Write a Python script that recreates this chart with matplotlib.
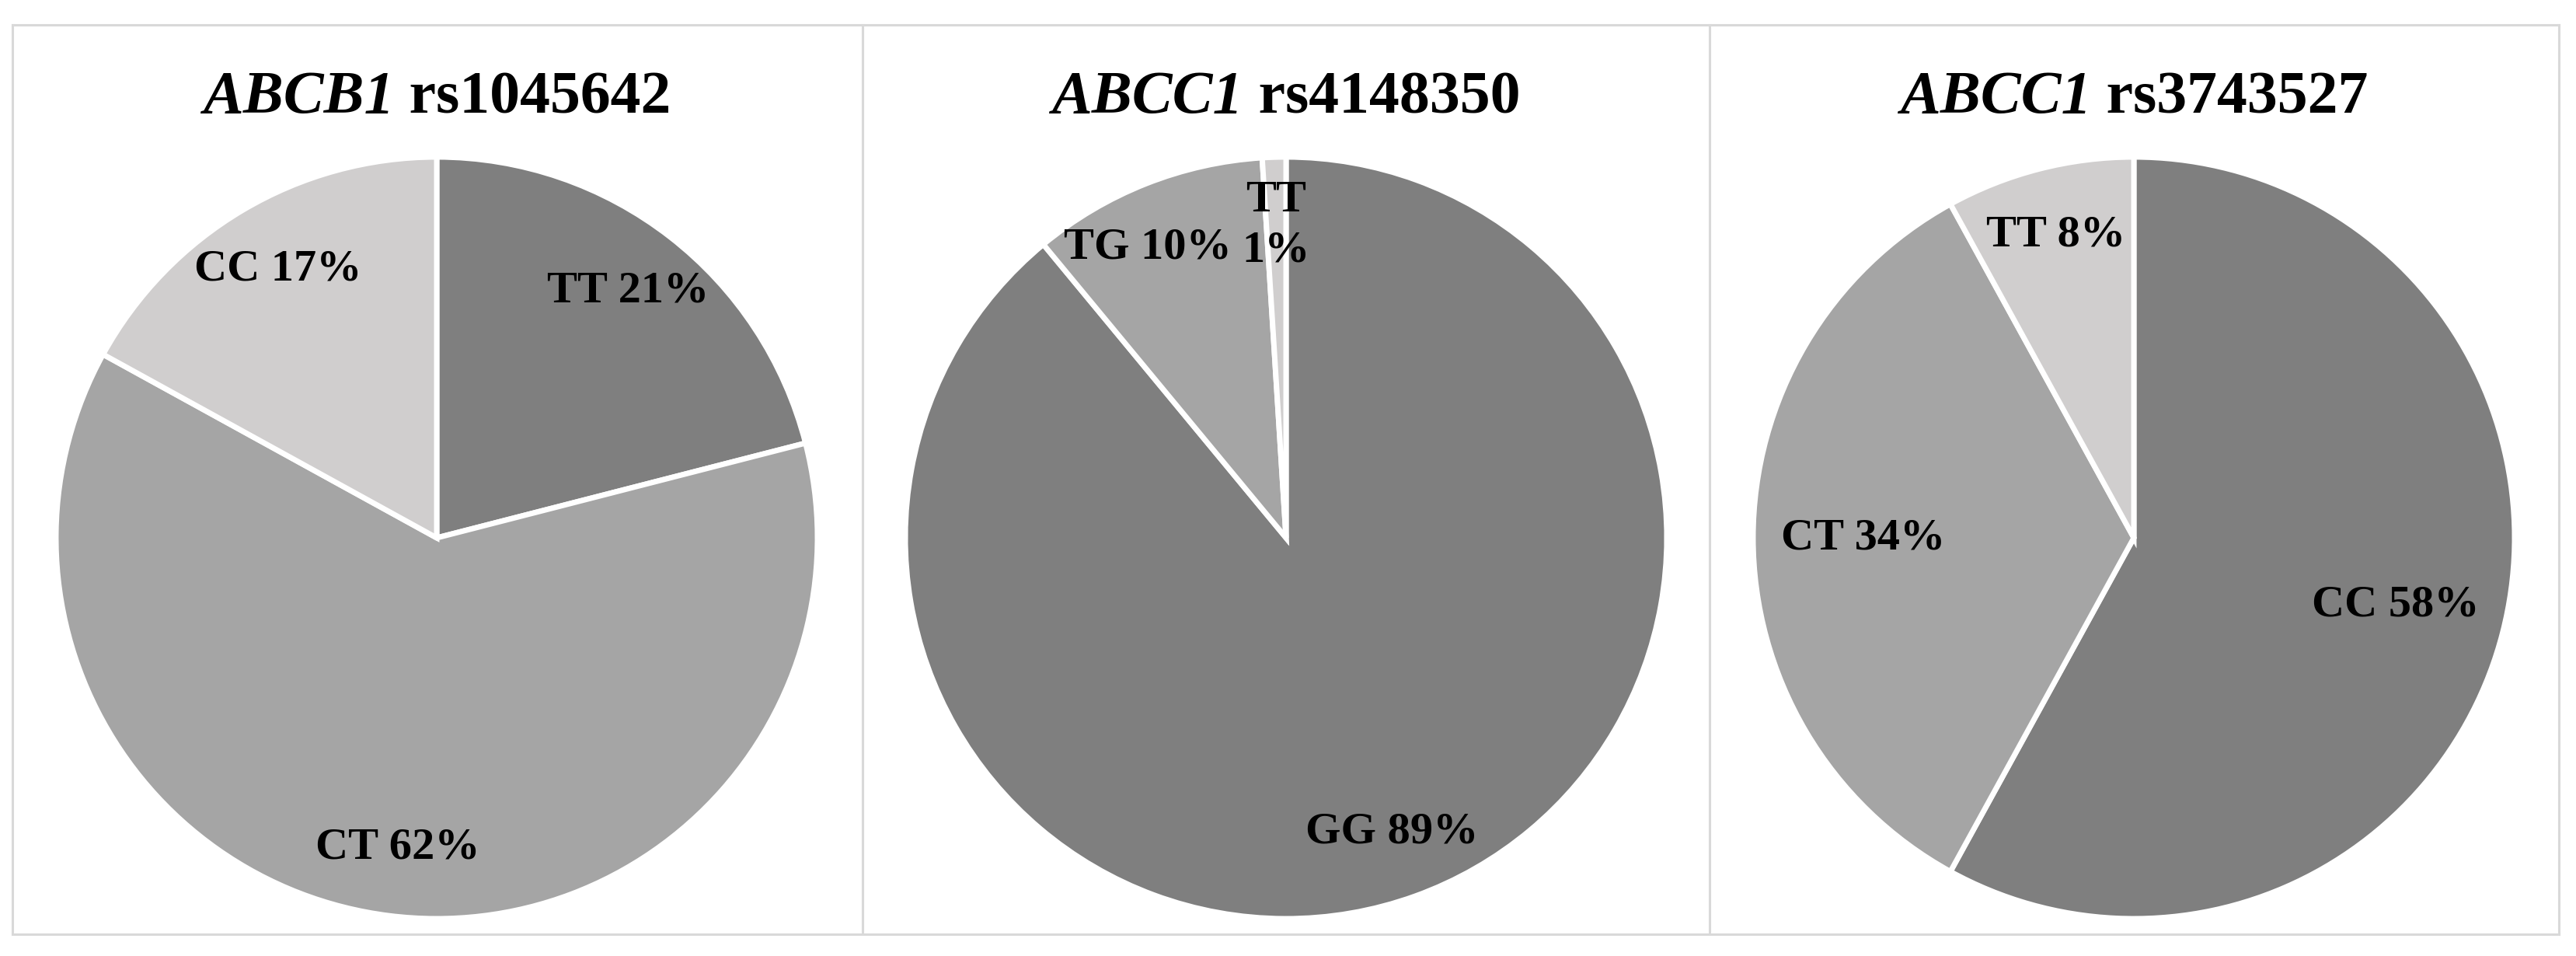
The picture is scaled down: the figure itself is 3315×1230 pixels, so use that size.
import numpy as np
import matplotlib
matplotlib.use("Agg")
import matplotlib.pyplot as plt
from matplotlib.lines import Line2D

# Chart data
genes = ["ABCB1", "ABCC1", "ABCC1"]
snps = ["rs1045642", "rs4148350", "rs3743527"]
genotypes = [
    ["TT", "CT", "CC"],
    ["GG", "TG", "TT"],
    ["CC", "CT", "TT"],
]
percents = [
    [21, 62, 17],
    [89, 10, 1],
    [58, 34, 8],
]
colors = ["#7f7f7f", "#a5a5a5", "#d0cece"]

W, H = 3315, 1230
DPI = 100
fig = plt.figure(figsize=(W / DPI, H / DPI), dpi=DPI)
fig.patch.set_facecolor("white")

serif = ["Liberation Serif", "DejaVu Serif"]

# Pie geometry in pixels (top-left origin)
centers_x = [562, 1655, 2746]
center_y = 692
R = 490


def px_to_fig(x, y):
    return x / W, 1 - y / H


# Outer frame and dividers
frame_col = "#d9d9d9"
left, right, top, bottom = 16, 3293, 32, 1202
for xs, ys in [
    ([left, right], [top, top]),
    ([left, right], [bottom, bottom]),
    ([left, left], [top, bottom]),
    ([right, right], [top, bottom]),
    ([1110, 1110], [top, bottom]),
    ([2200, 2200], [top, bottom]),
]:
    fx = [x / W for x in xs]
    fy = [1 - y / H for y in ys]
    fig.add_artist(Line2D(fx, fy, color=frame_col, lw=2.2, transform=fig.transFigure))

renderer = fig.canvas.get_renderer()

for i in range(3):
    cx = centers_x[i]
    x0, y0 = px_to_fig(cx - R, center_y + R)
    ax = fig.add_axes([x0, y0, 2 * R / W, 2 * R / H])

    wedges, _ = ax.pie(
        percents[i],
        colors=colors,
        startangle=90,
        counterclock=False,
        radius=1,
        wedgeprops=dict(edgecolor="white", linewidth=5),
    )
    # pie() widens the limits, pin them so radius 1 fills the axes
    ax.set_xlim(-1, 1)
    ax.set_ylim(-1, 1)
    ax.axis("off")

    texts = []
    for w, lab, p in zip(wedges, genotypes[i], percents[i]):
        ang = np.deg2rad((w.theta1 + w.theta2) / 2)
        d = 0.71 if 30 < p < 60 else 0.82
        txt = f"{lab}\n{p}%" if p < 5 else f"{lab} {p}%"
        t = ax.text(
            d * np.cos(ang), d * np.sin(ang), txt,
            ha="center", va="center", fontsize=42, fontweight="bold",
            family=serif, linespacing=1.3,
        )
        texts.append(t)

    # push a label sideways if it runs into the next one (tiny slices)
    for a, b in zip(texts[:-1], texts[1:]):
        ba = a.get_window_extent(renderer)
        bb = b.get_window_extent(renderer)
        if ba.overlaps(bb):
            shift = (ba.x1 - bb.x0 + 14) / R
            x, y = a.get_position()
            a.set_position((x - shift, y))

    # Title: italic gene name + upright SNP id
    ty = 1 - 127 / H
    t1 = fig.text(0, ty, genes[i], fontsize=56, fontweight="bold",
                  fontstyle="italic", family=serif, va="center")
    t2 = fig.text(0, ty, " " + snps[i], fontsize=56, fontweight="bold",
                  family=serif, va="center")
    w1 = t1.get_window_extent(renderer).width
    w2 = t2.get_window_extent(renderer).width
    start = cx - (w1 + w2) / 2
    t1.set_x(start / W)
    t2.set_x((start + w1) / W)

fig.savefig("out.png", dpi=DPI, facecolor="white")
